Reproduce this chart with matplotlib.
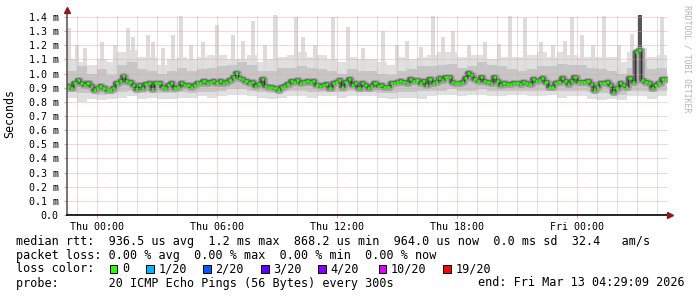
#!/usr/bin/env python3
"""Smokeping-style latency graph (30 h window) drawn with matplotlib."""

import matplotlib
matplotlib.use("Agg")
import matplotlib.pyplot as plt
import numpy as np

W, H = 697, 297
MONO = "DejaVu Sans Mono"

# median rtt in ms, one reading every ~10 min from Wed 22:30 to Fri 04:30
median_ms = [
    0.91, 0.90, 0.93, 0.955, 0.93, 0.92, 0.935, 0.91, 0.885, 0.90,
    0.91, 0.90, 0.885, 0.885, 0.895, 0.93, 0.95, 0.98, 0.95, 0.943,
    0.92, 0.89, 0.92, 0.90, 0.925, 0.935, 0.89, 0.93, 0.935, 0.905,
    0.90, 0.92, 0.935, 0.90, 0.905, 0.93, 0.92, 0.92, 0.905, 0.92,
    0.93, 0.93, 0.95, 0.935, 0.94,
    0.95, 0.935, 0.95, 0.93, 0.943, 0.955, 0.978, 1.006, 0.966, 0.962,
    0.95, 0.935, 0.943, 0.912, 0.925, 0.96, 0.912, 0.908, 0.908, 0.896,
    0.885, 0.908, 0.912, 0.925, 0.95, 0.943, 0.955, 0.935, 0.943, 0.95,
    0.943, 0.95, 0.92, 0.912, 0.92, 0.925, 0.896, 0.93, 0.943, 0.955,
    0.908, 0.943, 0.96, 0.92, 0.93, 0.90,
    0.935, 0.92, 0.896, 0.912, 0.935, 0.912, 0.92, 0.908, 0.908,
    0.935, 0.93, 0.943, 0.95, 0.943, 0.935, 0.96, 0.95, 0.955, 0.935,
    0.95, 0.92, 0.96, 0.935, 0.943, 0.966, 0.955, 0.978, 0.973, 0.943,
    0.93, 0.935, 0.943, 0.966, 1.006, 0.99, 0.96, 0.95, 0.973, 0.95,
    0.943, 0.935, 0.978, 0.95, 0.92, 0.93, 0.925,
    0.925, 0.935, 0.93, 0.925, 0.943, 0.935, 0.925, 0.96, 0.95, 0.955,
    0.966, 0.943, 0.908, 0.908, 0.935, 0.943, 0.966, 0.95, 0.925, 0.95,
    0.978, 0.943, 0.943, 0.943, 0.95, 0.925, 0.885, 0.908, 0.935, 0.93,
    0.943, 0.92, 0.873, 0.90, 0.93, 0.92, 0.908, 0.966, 0.943, 1.155,
    1.17, 0.955, 0.943, 0.93, 0.896, 0.92, 0.935, 0.96, 0.965,
]

# smoke envelope per half-hour bin (ms)
light_top = [
    1.10, 1.08, 1.06, 1.10, 1.08, 1.15, 1.17, 1.12, 1.12, 1.06, 1.10, 1.12, 1.10, 1.12, 1.13,
    1.13, 1.10, 1.10, 1.13, 1.08, 1.10, 1.12, 1.13, 1.15, 1.12, 1.13, 1.10, 1.08, 1.12, 1.10,
    1.10, 1.08, 1.06, 1.12, 1.10, 1.12, 1.13, 1.15, 1.15, 1.12, 1.13, 1.13, 1.10, 1.12, 1.12,
    1.12, 1.13, 1.15, 1.12, 1.15, 1.13, 1.12, 1.12, 1.12, 1.12, 1.08, 1.15, 1.18, 1.12, 1.13,
]
mid_top = [
    1.02, 1.05, 1.00, 1.03, 0.99, 1.06, 1.08, 1.03, 1.02, 1.00, 1.02, 1.04, 1.02, 1.03, 1.04,
    1.05, 1.06, 1.08, 1.06, 1.02, 1.02, 1.04, 1.04, 1.05, 1.04, 1.03, 1.02, 1.00, 1.03, 1.02,
    1.02, 1.00, 0.99, 1.02, 1.03, 1.05, 1.05, 1.06, 1.07, 1.04, 1.05, 1.08, 1.06, 1.05, 1.03,
    1.02, 1.03, 1.05, 1.05, 1.07, 1.06, 1.06, 1.04, 1.03, 1.02, 1.00, 1.04, 1.10, 1.03, 1.04,
]
mid_bot = [
    0.87, 0.86, 0.86, 0.85, 0.86, 0.87, 0.88, 0.86, 0.87, 0.86, 0.86, 0.87, 0.86, 0.87, 0.87,
    0.88, 0.89, 0.89, 0.88, 0.87, 0.86, 0.87, 0.88, 0.88, 0.87, 0.87, 0.87, 0.87, 0.88, 0.87,
    0.87, 0.86, 0.86, 0.87, 0.87, 0.88, 0.88, 0.88, 0.89, 0.88, 0.88, 0.89, 0.88, 0.88, 0.88,
    0.88, 0.88, 0.88, 0.89, 0.88, 0.88, 0.88, 0.87, 0.86, 0.86, 0.85, 0.88, 0.88, 0.87, 0.88,
]
light_bot = [
    0.83, 0.80, 0.82, 0.81, 0.82, 0.83, 0.84, 0.82, 0.83, 0.82, 0.82, 0.83, 0.83, 0.84, 0.83,
    0.84, 0.85, 0.85, 0.84, 0.83, 0.82, 0.83, 0.84, 0.84, 0.83, 0.84, 0.84, 0.83, 0.84, 0.84,
    0.84, 0.83, 0.82, 0.83, 0.83, 0.82, 0.84, 0.85, 0.85, 0.84, 0.85, 0.85, 0.84, 0.84, 0.85,
    0.85, 0.84, 0.84, 0.85, 0.83, 0.84, 0.84, 0.82, 0.81, 0.82, 0.81, 0.84, 0.84, 0.82, 0.84,
]

# tall single-ping outliers: hours since Thu 00:00 and top value (ms)
spike_hours = [-1.4, -1.0, -0.6, 0.25, 0.9, 1.55, 1.8, 2.55, 2.8, 3.3, 3.8, 4.2, 4.7, 5.3,
               6.0, 6.8, 7.3, 7.8, 8.4, 8.9, 9.95, 10.3, 10.9, 11.8, 12.55, 13.3, 14.3,
               15.0, 15.5, 16.2, 16.8, 17.3, 17.8, 18.6, 19.4, 20.1, 20.65, 21.4, 22.2,
               22.8, 23.4, 23.75, 24.25, 24.8, 25.35, 26.1, 26.75, 28.25]
spike_tops = [1.32, 1.20, 1.18, 1.22, 1.20, 1.32, 1.26, 1.27, 1.22, 1.18, 1.27, 1.41, 1.20, 1.22,
              1.34, 1.27, 1.23, 1.37, 1.20, 1.42, 1.40, 1.26, 1.20, 1.40, 1.33, 1.18, 1.30,
              1.20, 1.23, 1.19, 1.41, 1.26, 1.30, 1.20, 1.22, 1.21, 1.41, 1.39, 1.22,
              1.20, 1.23, 1.40, 1.27, 1.20, 1.41, 1.20, 1.28, 1.40]

# burst of slow pings around Fri 03:00
burst_hours = (27.05, 27.25)
burst_range = (0.93, 1.42)

x_ticks = [0, 6, 12, 18, 24]
x_labels = ["Thu 00:00", "Thu 06:00", "Thu 12:00", "Thu 18:00", "Fri 00:00"]
y_ticks = [i / 10 for i in range(15)]
y_labels = ["0.0"] + [f"{v:.1f} m" for v in y_ticks[1:]]

loss_labels = ["0", "1/20", "2/20", "3/20", "4/20", "10/20", "19/20"]
loss_colors = ["#26ff00", "#00b8ff", "#0059ff", "#5e00ff", "#7e00ff", "#dd00ff", "#ff0000"]

T0, T1 = -1.5, 28.5


def px(x, y):
    return x / W, 1 - y / H


fig = plt.figure(figsize=(W / 100, H / 100), dpi=100)
fig.patch.set_facecolor("white")
ax = fig.add_axes([67 / W, (H - 215) / H, 601 / W, 200 / H])
ax.set_xlim(T0, 28.55)
ax.set_ylim(0, 1.414)

# smoke
edges = np.linspace(T0, T1, len(light_top) + 1)


def stepfill(lo, hi, color, z):
    ax.fill_between(edges, list(lo) + [lo[-1]], list(hi) + [hi[-1]],
                    step="post", color=color, lw=0, zorder=z)


stepfill(light_bot, light_top, "#e0e0e0", 2)
ax.bar(spike_hours, np.array(spike_tops) - 1.0, bottom=1.0, width=0.22,
       color="#dcdcdc", lw=0, zorder=2)
stepfill(mid_bot, mid_top, "#c6c6c6", 3)
ax.bar(np.mean(burst_hours), burst_range[1] - burst_range[0], bottom=burst_range[0],
       width=burst_hours[1] - burst_hours[0], color="#555555", lw=0, zorder=4)

n = len(median_ms)
dt = (T1 - T0) / n
t_med = T0 + (np.arange(n) + 0.5) * dt
ax.plot(t_med, median_ms, drawstyle="steps-mid", color="#a0a0a0", lw=5.0, zorder=4)
ax.plot(t_med, median_ms, drawstyle="steps-mid", color="#606060", lw=2.6, zorder=4)

# grid
dots = (0, (1, 1))
for v in y_ticks[1:]:
    ax.axhline(v, color="#eca0a0", lw=0.72, ls=dots, zorder=5, alpha=0.85)
for h in range(-1, 29):
    if h in x_ticks:
        continue
    ax.axvline(h, color="#b8b8b8", lw=0.72, ls=dots, zorder=5, alpha=0.9)
for h in x_ticks:
    ax.axvline(h, color="#eca0a0", lw=0.72, ls=dots, zorder=5, alpha=0.9)

# median: thin dark risers, green treads
ax.plot(t_med, median_ms, drawstyle="steps-mid", color="#303030", lw=0.6, zorder=6)
ax.hlines(median_ms, t_med - dt / 2, t_med + dt / 2, color="#26ff00", lw=1.8, zorder=7)

# axes
for s in ax.spines.values():
    s.set_visible(False)
ax.plot([0, 0], [0, 1.015], transform=ax.transAxes, color="#505050", lw=1.1,
        clip_on=False, zorder=8)
ax.plot([0, 1.0], [0, 0], transform=ax.transAxes, color="black", lw=1.2,
        clip_on=False, zorder=8)
ax.plot([0], [1.025], marker="^", ms=4.5, color="#8b1a1a", transform=ax.transAxes,
        clip_on=False, zorder=9)
ax.plot([1.004], [0], marker=">", ms=4.5, color="#8b1a1a", transform=ax.transAxes,
        clip_on=False, zorder=9)

ax.set_xticks(x_ticks)
ax.set_xticklabels(x_labels, fontfamily=MONO, fontsize=7.2)
ax.set_yticks(y_ticks)
ax.set_yticklabels(y_labels, fontfamily=MONO, fontsize=7.2)
ax.tick_params(axis="x", length=2, color="#e89a9a", pad=3)
ax.tick_params(axis="y", length=2, color="#e89a9a", pad=4)

fig.text(*px(10, 114), "Seconds", rotation=90, ha="center", va="center",
         fontfamily=MONO, fontsize=8.4)
fig.text(*px(687.5, 59), "RRDTOOL / TOBI OETIKER", rotation=270, ha="center",
         va="center", fontfamily=MONO, fontsize=5.9, color="#b4b4b4")

# legend
fs = 8.43
fig.text(*px(16, 244.5),
         "median rtt:  936.5 us avg  1.2 ms max  868.2 us min  964.0 us now  0.0 ms sd  32.4   am/s",
         fontfamily=MONO, fontsize=fs, va="baseline")
fig.text(*px(16, 258.5),
         "packet loss: 0.00 % avg  0.00 % max  0.00 % min  0.00 % now",
         fontfamily=MONO, fontsize=fs, va="baseline")
fig.text(*px(16, 272.5), "loss color:", fontfamily=MONO, fontsize=fs, va="baseline")
box_x = [109.5, 146, 203, 261, 318, 378.5, 443]
for bx, lab, col in zip(box_x, loss_labels, loss_colors):
    fig.patches.append(plt.Rectangle(px(bx, 272.5), 7.5 / W, 7.5 / H, facecolor=col,
                                     edgecolor="black", lw=0.7,
                                     transform=fig.transFigure, figure=fig))
    fig.text(*px(bx + 12.5, 272.5), lab, fontfamily=MONO, fontsize=fs, va="baseline")
fig.text(*px(16, 286.5),
         "probe:       20 ICMP Echo Pings (56 Bytes) every 300s",
         fontfamily=MONO, fontsize=fs, va="baseline")
fig.text(*px(478, 286.5), "end: Fri Mar 13 04:29:09 2026",
         fontfamily=MONO, fontsize=fs, va="baseline")

fig.savefig("out.png", dpi=100)
